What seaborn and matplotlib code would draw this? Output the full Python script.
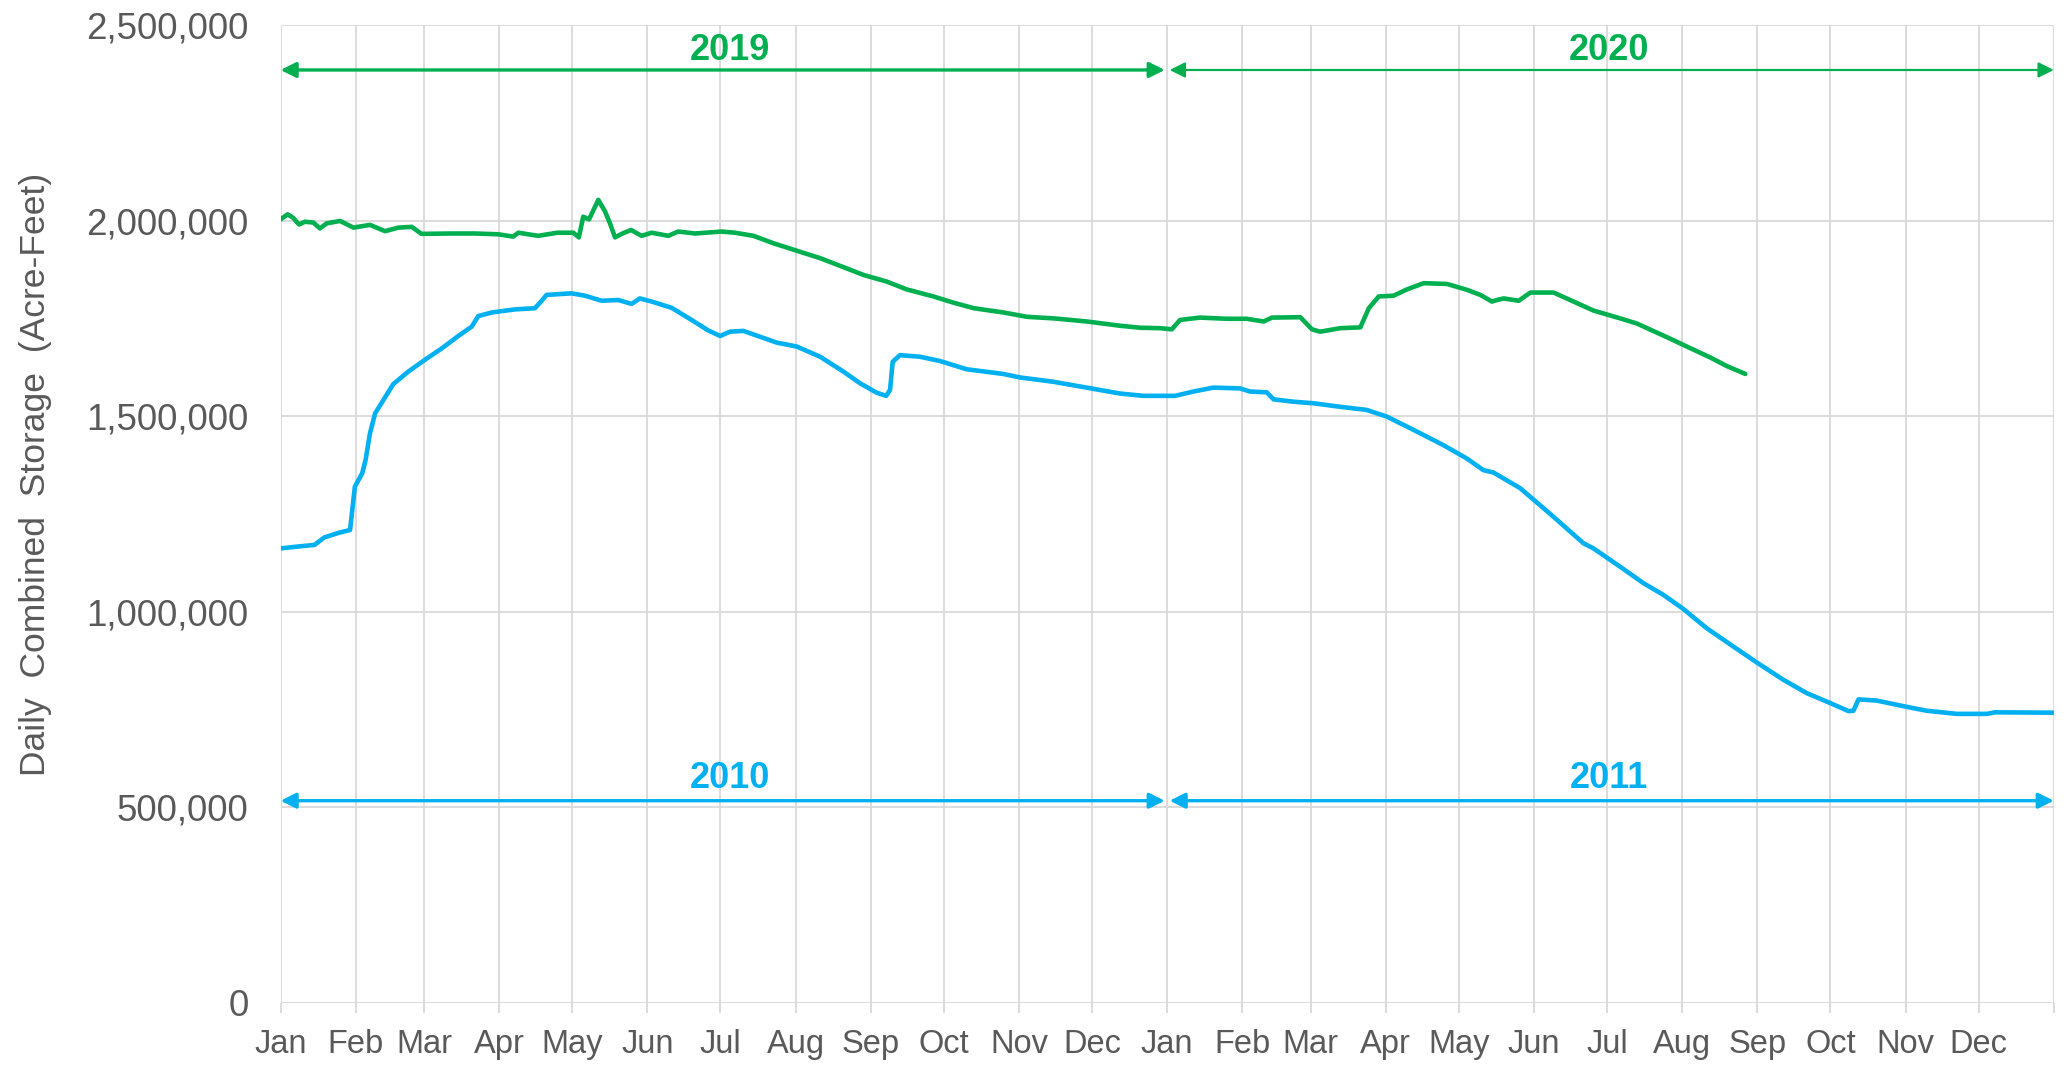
import numpy as np
import pandas as pd
import matplotlib
matplotlib.use("Agg")
import matplotlib.pyplot as plt
import seaborn as sns
from matplotlib.ticker import FuncFormatter

# ---------------- data ----------------
month_labels = ["Jan", "Feb", "Mar", "Apr", "May", "Jun", "Jul", "Aug", "Sep", "Oct", "Nov", "Dec"] * 2
month_start_days = [0, 31, 59, 90, 120, 151, 181, 212, 243, 273, 304, 334,
                    365, 396, 424, 455, 485, 516, 546, 577, 608, 638, 669, 699, 730]

# 2010-2011 series (day since Jan 1 2010, acre-feet)
days_2010 = [0, 6, 14, 18, 24, 28.6, 30.6, 33.6, 35, 36.8, 38.9, 42.3, 46.4, 52.6, 59.4, 66.3,
             73.2, 78.7, 81.4, 86.9, 96.5, 104.7, 107.5, 109.5, 119.8, 125.3, 132.2, 139, 144.5,
             147.9, 152.8, 161, 169.2, 176.1, 181, 185, 190.5, 197.4, 204.3, 212.5, 222.1, 231.7,
             238.6, 245.4, 249.3, 250.9, 252, 255, 263.2, 271.5, 282.4, 297.5, 304.4, 318.1,
             331.8, 345.5, 355.1, 368.3, 375.8, 384, 395, 399.1, 406, 408.8, 417, 425.2, 436.2,
             447.1, 455.4, 466.4, 478.7, 488.3, 495.2, 499.3, 510.3, 524, 536.4, 540.5, 551.5,
             561.1, 569.3, 577.1, 587.1, 598.1, 608.3, 618.7, 628.3, 638.2, 645.5, 647.5, 649.6,
             657.1, 669.4, 677.7, 690.1, 702.4, 705.8, 730]
storage_2010 = [1162000, 1166000, 1171000, 1190000, 1202000, 1209000, 1320000, 1354000, 1388000,
                1456000, 1507000, 1541000, 1582000, 1614000, 1644000, 1673000, 1705000, 1729000,
                1756000, 1765000, 1773000, 1776000, 1795000, 1810000, 1814000, 1808000, 1795000,
                1797000, 1787000, 1801000, 1793000, 1777000, 1746000, 1719000, 1705000, 1716000,
                1718000, 1703000, 1688000, 1678000, 1652000, 1614000, 1584000, 1560000, 1552000,
                1567000, 1639000, 1656000, 1652000, 1641000, 1620000, 1608000, 1599000, 1588000,
                1573000, 1558000, 1552000, 1552000, 1563000, 1573000, 1571000, 1563000, 1561000,
                1543000, 1537000, 1533000, 1524000, 1516000, 1499000, 1465000, 1426000, 1392000,
                1362000, 1356000, 1316000, 1243000, 1175000, 1162000, 1115000, 1073000, 1043000,
                1009000, 958000, 911000, 868000, 826000, 792000, 766000, 746000, 747000, 776000,
                773000, 757000, 747000, 739000, 739000, 743000, 742000]

# 2019-2020 series (day since Jan 1 2019, acre-feet)
days_2019 = [0, 2.9, 5.2, 7.6, 10, 13.5, 16.2, 19, 24.5, 30, 36.8, 43, 48.5, 54, 58, 70.4, 80,
             89.6, 95.8, 97.9, 106, 114, 120.5, 122.8, 124.6, 127, 130.8, 133.6, 135.6, 137.7,
             140.4, 144.3, 148.6, 152.8, 159.6, 163.7, 170.6, 181.6, 187, 194.7, 202.9, 212.5,
             222.1, 231.7, 240, 249.6, 257.8, 268.8, 277.1, 285.4, 297.7, 307.3, 318.3, 332,
             345.8, 354, 362, 366.9, 370.3, 378.5, 389.5, 397.8, 404.7, 408.1, 419.8, 424.6, 428,
             436.3, 444.5, 448, 452.1, 458.2, 463.7, 470.6, 480.2, 488.4, 493.9, 498.7, 500.8,
             503.5, 509.7, 514.5, 524.1, 532.3, 540.5, 551.5, 558.3, 570.7, 580.3, 588.6, 595.4, 603]
storage_2019 = [2003000, 2016000, 2007000, 1990000, 1997000, 1995000, 1980000, 1993000, 1999000,
                1982000, 1989000, 1973000, 1982000, 1984000, 1966000, 1967000, 1967000, 1965000,
                1959000, 1969000, 1961000, 1969000, 1969000, 1957000, 2010000, 2003000, 2053000,
                2023000, 1993000, 1957000, 1966000, 1976000, 1961000, 1969000, 1961000, 1972000,
                1967000, 1972000, 1969000, 1961000, 1942000, 1923000, 1904000, 1881000, 1861000,
                1844000, 1824000, 1806000, 1790000, 1776000, 1765000, 1754000, 1750000, 1742000,
                1731000, 1726000, 1725000, 1722000, 1746000, 1752000, 1749000, 1749000, 1742000,
                1752000, 1753000, 1722000, 1716000, 1725000, 1727000, 1776000, 1806000, 1808000,
                1824000, 1840000, 1838000, 1823000, 1810000, 1793000, 1797000, 1801000, 1795000,
                1816000, 1816000, 1793000, 1770000, 1750000, 1737000, 1702000, 1674000, 1650000,
                1628000, 1608000]

series_names = ["2019-2020", "2010-2011"]
year_labels_green = ["2019", "2020"]
year_labels_blue = ["2010", "2011"]

GREEN = "#00B050"
BLUE = "#00B0F0"
TEXT = "#595959"
GRID = "#D9D9D9"

df = pd.concat([
    pd.DataFrame({"day": days_2019, "storage": storage_2019, "series": series_names[0]}),
    pd.DataFrame({"day": days_2010, "storage": storage_2010, "series": series_names[1]}),
], ignore_index=True)

# ---------------- plot ----------------
sns.set_theme(style="white")
plt.rcParams["font.family"] = ["Liberation Sans", "DejaVu Sans"]

fig = plt.figure(figsize=(20.66, 10.68), dpi=100)
ax = fig.add_axes([0.1358, 0.0609, 0.8583, 0.9157])

sns.lineplot(data=df, x="day", y="storage", hue="series",
             palette={series_names[0]: GREEN, series_names[1]: BLUE},
             estimator=None, sort=False, linewidth=3.3, legend=False, ax=ax, zorder=3)

ax.set_xlim(0, 730)
ax.set_ylim(0, 2500000)
ax.set_xticks(month_start_days)
ax.set_xticklabels(month_labels + [""])
ax.set_yticks(np.arange(0, 2500001, 500000))
ax.yaxis.set_major_formatter(FuncFormatter(lambda v, p: f"{int(v):,}"))

for s in ax.spines.values():
    s.set_visible(False)
ax.grid(True, color=GRID, linewidth=1.3, zorder=0)
ax.set_axisbelow(True)

ax.tick_params(axis="x", which="major", length=7, width=1.3, color=GRID, pad=12,
               labelsize=23.5, labelcolor=TEXT, bottom=True)
ax.tick_params(axis="y", length=0, pad=23, labelsize=26.5, labelcolor=TEXT)

ax.set_xlabel("")
ax.set_ylabel("Daily  Combined  Storage  (Acre-Feet)", fontsize=25.5, color=TEXT)
ax.yaxis.set_label_coords(-0.129, 0.541)

# year span arrows
def span_arrow(x0, x1, y, color, lw):
    ax.annotate("", xy=(x1, y), xytext=(x0, y),
                arrowprops=dict(arrowstyle="<|-|>", color=color, lw=lw,
                                mutation_scale=23, shrinkA=0, shrinkB=0),
                zorder=4, annotation_clip=False)

span_arrow(0, 364, 2385000, GREEN, 2.4)
span_arrow(366, 730, 2385000, GREEN, 1.6)
span_arrow(0, 364, 517000, BLUE, 2.4)
span_arrow(366, 730, 517000, BLUE, 2.4)

for x, lab in zip([185, 547], year_labels_green):
    ax.text(x, 2436000, lab, color=GREEN, fontsize=26, fontweight="bold",
            ha="center", va="center", zorder=5)
for x, lab in zip([185, 547], year_labels_blue):
    ax.text(x, 575000, lab, color=BLUE, fontsize=26, fontweight="bold",
            ha="center", va="center", zorder=5)

fig.savefig("out.png", dpi=100)
